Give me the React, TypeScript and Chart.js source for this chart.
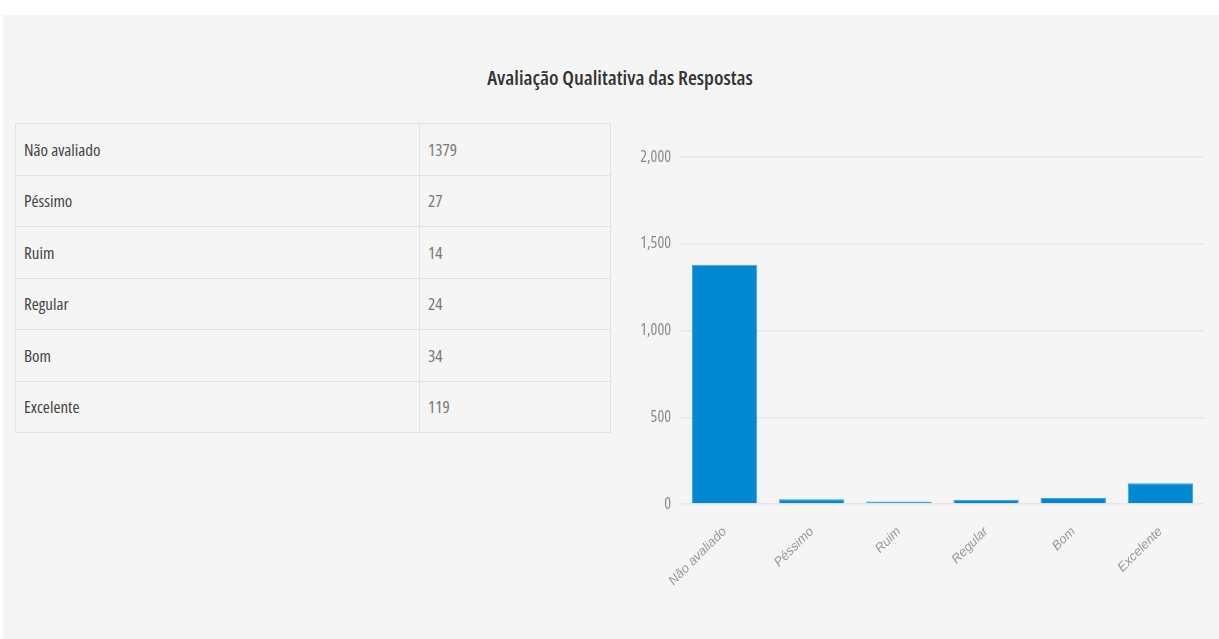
import React, { useEffect, useRef } from "react";
import { Chart, registerables } from "chart.js";

Chart.register(...registerables);

const title = "Avaliação Qualitativa das Respostas";
const categories = ["Não avaliado", "Péssimo", "Ruim", "Regular", "Bom", "Excelente"];
const counts = [1379, 27, 14, 24, 34, 119];
const yTicks = [0, 500, 1000, 1500, 2000];

const fontStack = '"Open Sans", "Noto Sans", sans-serif';

function BarChart() {
  const ref = useRef<HTMLCanvasElement | null>(null);
  useEffect(() => {
    if (!ref.current) return;
    const chart = new Chart(ref.current, {
      type: "bar",
      data: {
        labels: categories,
        datasets: [
          {
            data: counts,
            backgroundColor: "#0288d1",
            borderColor: "#3aa3de",
            borderWidth: { top: 1, left: 1, right: 1, bottom: 0 },
            barPercentage: 0.75,
            categoryPercentage: 1,
          },
        ],
      },
      options: {
        animation: false,
        responsive: false,
        maintainAspectRatio: false,
        plugins: { legend: { display: false }, tooltip: { enabled: false }, title: { display: false } },
        layout: { padding: { top: 27, right: 15, left: 0, bottom: 0 } },
        scales: {
          x: {
            grid: { display: false, drawTicks: false },
            border: { display: false },
            ticks: {
              color: "#999999",
              font: { family: '"Liberation Sans", Arial, sans-serif', size: 13, style: "italic" },
              minRotation: 45,
              maxRotation: 45,
              padding: 20,
            },
            afterFit: (s: any) => {
              s.height = 120;
            },
          },
          y: {
            min: 0,
            max: 2000,
            afterBuildTicks: (s: any) => {
              s.ticks = yTicks.map((v) => ({ value: v }));
            },
            grid: { color: "#e6e6e6", lineWidth: 1.5, drawTicks: false },
            border: { display: false },
            ticks: {
              color: "#8a8a8a",
              font: { family: fontStack, size: 16, weight: "condensed" as any },
              padding: 10,
              callback: (v: any) => Number(v).toLocaleString("en-US"),
            },
            afterFit: (s: any) => {
              s.width = 61;
            },
          },
        },
      },
    });
    return () => chart.destroy();
  }, []);
  return (
    <canvas
      ref={ref}
      width={599}
      height={494}
      style={{ position: "absolute", left: 620, top: 130, width: 599, height: 494 }}
    />
  );
}

export default function App() {
  const rowH = 51.5;
  return (
    <div style={{ position: "absolute", left: 0, top: 0, width: 1219, height: 639, background: "#ffffff", overflow: "hidden" }}>
      <div style={{ position: "absolute", left: 3, top: 15, width: 1216, height: 624, background: "#f5f5f5" }} />
      <div
        style={{
          position: "absolute",
          left: 0,
          width: 1240,
          top: 63,
          textAlign: "center",
          fontFamily: fontStack,
          fontWeight: 600,
          fontSize: 20.5,
          lineHeight: "29px",
          color: "#333",
          fontStretch: "75%",
        }}
      >
        {title}
      </div>
      <table
        style={{
          position: "absolute",
          left: 15,
          top: 123,
          width: 596,
          borderCollapse: "collapse",
          fontFamily: fontStack,
          fontSize: 17,
          fontWeight: 400,
          fontStretch: "82%",
        }}
      >
        <tbody>
          {categories.map((c, i) => (
            <tr key={c} style={{ height: rowH }}>
              <td style={{ border: "1px solid #e2e2e2", width: 395, padding: "0 0 0 8px", color: "#444" }}>{c}</td>
              <td style={{ border: "1px solid #e2e2e2", padding: "0 0 0 8px", color: "#777" }}>{counts[i]}</td>
            </tr>
          ))}
        </tbody>
      </table>
      <BarChart />
    </div>
  );
}
